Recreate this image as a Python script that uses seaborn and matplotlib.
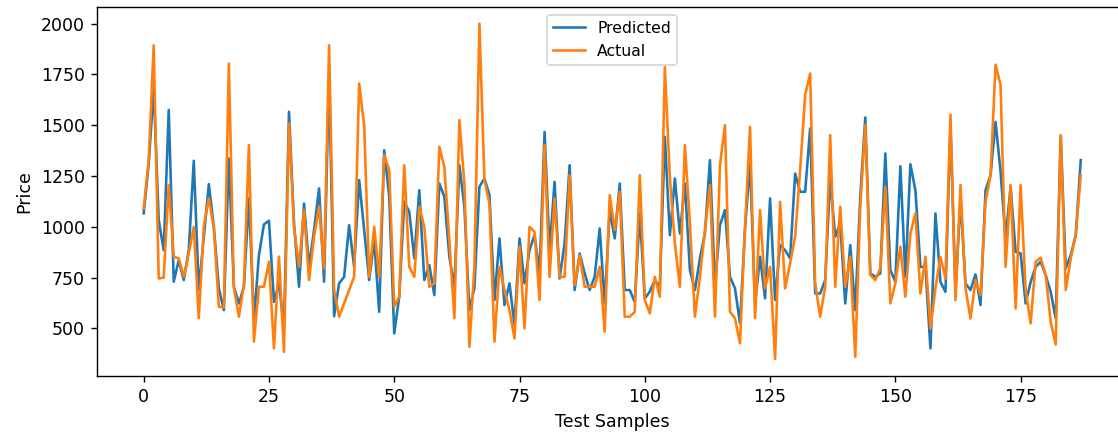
import numpy as np
import pandas as pd
import matplotlib
matplotlib.use("Agg")
import matplotlib.pyplot as plt
import seaborn as sns

# Model output vs. ground truth on the held-out samples
predicted = [
    1066, 1310, 1680, 1033, 885, 1575, 730, 836, 738, 885,
    1325, 690, 950, 1210, 1000, 697, 590, 1336, 705, 623,
    705, 1140, 541, 861, 1012, 1030, 631, 722, 500, 1566,
    1017, 705, 1115, 803, 984, 1189, 730, 1750, 560, 722,
    754, 1008, 803, 1230, 984, 738, 935, 582, 1377, 1148,
    476, 656, 1123, 1074, 845, 1180, 738, 812, 664, 1213,
    1148, 853, 705, 1303, 1099, 590, 700, 1197, 1238, 1156,
    640, 943, 615, 722, 517, 943, 722, 885, 959, 771,
    1467, 885, 1221, 746, 918, 1303, 689, 869, 771, 689,
    754, 992, 623, 1082, 943, 1213, 689, 689, 630, 1066,
    648, 681, 738, 705, 1443, 959, 1238, 967, 1213, 787,
    689, 845, 967, 1328, 705, 1008, 1082, 754, 697, 525,
    990, 1312, 620, 853, 648, 1140, 640, 910, 885, 845,
    1262, 1172, 1172, 1484, 672, 672, 738, 1238, 951, 1017,
    623, 910, 590, 1148, 1538, 771, 754, 771, 1361, 787,
    730, 1298, 754, 1308, 1180, 803, 803, 402, 1066, 729,
    680, 1500, 680, 1136, 721, 689, 766, 615, 1180, 1254,
    1516, 1270, 943, 1197, 877, 869, 623, 729, 803, 828,
    762, 680, 549, 1448, 795, 861, 959, 1328,
]

actual = [
    1090, 1328, 1893, 746, 750, 1205, 853, 845, 754, 869,
    1000, 550, 1000, 1140, 992, 607, 604, 1803, 700, 558,
    713, 1402, 435, 705, 705, 828, 402, 853, 385, 1508,
    1000, 803, 1082, 738, 951, 1099, 795, 1893, 690, 558,
    623, 689, 754, 1705, 1500, 754, 1000, 754, 1353, 1279,
    607, 656, 1303, 803, 754, 1099, 1000, 705, 722, 1394,
    1295, 935, 550, 1525, 1213, 410, 800, 2000, 1230, 1115,
    435, 803, 689, 590, 451, 902, 500, 1000, 975, 640,
    1402, 754, 1140, 754, 754, 1254, 713, 861, 705, 705,
    705, 803, 484, 1156, 984, 1172, 558, 558, 582, 1254,
    640, 574, 754, 656, 1787, 1246, 918, 705, 1402, 1016,
    558, 754, 984, 1205, 558, 1303, 1500, 582, 550, 427,
    1000, 1492, 550, 1082, 697, 803, 350, 1123, 697, 820,
    951, 1279, 1648, 1754, 722, 558, 705, 1451, 705, 1099,
    705, 853, 361, 1100, 1500, 763, 738, 795, 1197, 623,
    722, 902, 656, 967, 1066, 672, 853, 500, 697, 852,
    746, 1552, 639, 1205, 697, 549, 738, 664, 1123, 1254,
    1798, 1697, 803, 1205, 598, 1205, 689, 525, 828, 848,
    762, 533, 421, 1451, 689, 844, 959, 1254,
]

samples = np.arange(len(predicted))

df = pd.DataFrame({"Test Samples": samples, "Predicted": predicted, "Actual": actual})

fig = plt.figure(figsize=(1118 / 125, 432 / 125), dpi=125)
ax = fig.add_axes([0.0866, 0.1303, 0.922, 0.854])

sns.lineplot(data=df, x="Test Samples", y="Predicted", ax=ax, label="Predicted",
             color="tab:blue", linewidth=1.5)
sns.lineplot(data=df, x="Test Samples", y="Actual", ax=ax, label="Actual",
             color="tab:orange", linewidth=1.5)

ax.set_xlabel("Test Samples")
ax.set_ylabel("Price")
ax.set_yticks([500, 750, 1000, 1250, 1500, 1750, 2000])
ax.legend(loc="upper center", fontsize=9)

fig.savefig("out.png", dpi=125)
